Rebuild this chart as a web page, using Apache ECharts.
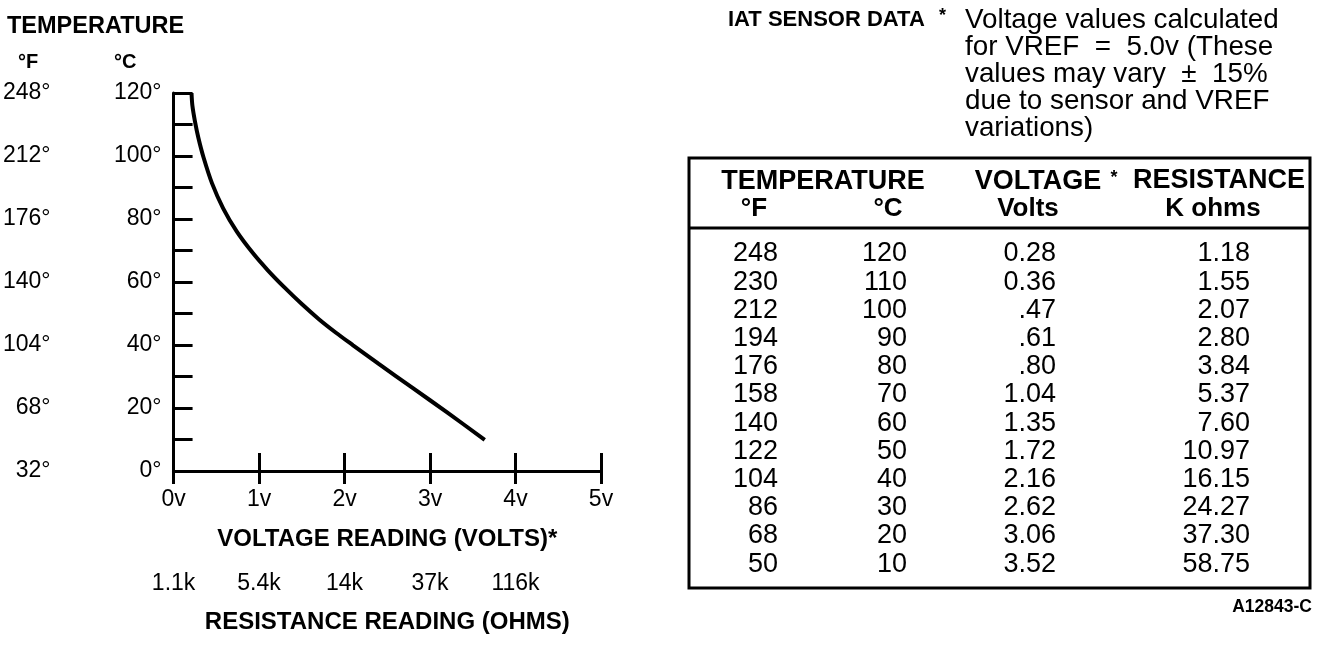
<!DOCTYPE html>
<html>
<head>
<meta charset="utf-8">
<script src="https://cdn.jsdelivr.net/npm/echarts@6/dist/echarts.min.js"></script>
<style>
html,body{margin:0;padding:0;background:#fff;}
#main{width:1328px;height:646px;}
</style>
</head>
<body>
<div id="main"></div>
<script>
// ---- Curve (voltage in volts, temperature in °C) ----
const curveVolts = [0.21, 0.22, 0.25, 0.29, 0.35, 0.45, 0.58, 0.74, 0.93, 1.10, 1.30, 1.50, 1.70, 1.90, 2.10, 2.40, 2.80, 3.20, 3.64];
const curveTemps = [120, 116, 111, 105.8, 99.6, 91.3, 83.4, 76.0, 69.1, 63.8, 58.2, 53.0, 48.2, 43.9, 39.9, 34.0, 26.3, 18.6, 9.9];

// ---- Axis tick labels ----
const voltLabels = ['0v', '1v', '2v', '3v', '4v', '5v'];
const resistLabels = ['1.1k', '5.4k', '14k', '37k', '116k', ''];
const celsiusLabels = ['0°', '20°', '40°', '60°', '80°', '100°', '120°'];
const fahrenheitLabels = ['32°', '68°', '104°', '140°', '176°', '212°', '248°'];

// ---- IAT sensor data table ----
const tableF = ['248', '230', '212', '194', '176', '158', '140', '122', '104', '86', '68', '50'];
const tableC = ['120', '110', '100', '90', '80', '70', '60', '50', '40', '30', '20', '10'];
const tableVolts = ['0.28', '0.36', '.47', '.61', '.80', '1.04', '1.35', '1.72', '2.16', '2.62', '3.06', '3.52'];
const tableKohms = ['1.18', '1.55', '2.07', '2.80', '3.84', '5.37', '7.60', '10.97', '16.15', '24.27', '37.30', '58.75'];

const noteLines = [
  'Voltage values calculated',
  'for VREF  =  5.0v (These',
  'values may vary  ±  15%',
  'due to sensor and VREF',
  'variations)'
];

const FF = '"Liberation Sans", Arial, Helvetica, sans-serif';
const chart = echarts.init(document.getElementById('main'));

function txt(text, x, y, size, weight, align, valign) {
  return {
    type: 'text',
    silent: true,
    style: {
      text: text, x: x, y: y,
      fontSize: size, fontWeight: weight || 'normal', fontFamily: FF,
      fill: '#000',
      align: align || 'left', verticalAlign: valign || 'middle',
      textAlign: align || 'left', textVerticalAlign: valign || 'middle'
    }
  };
}

const graphics = [];
// left headings
graphics.push(txt('TEMPERATURE', 7, 27, 23.5, 'bold'));
graphics.push(txt('°F', 18, 62, 20, 'bold'));
graphics.push(txt('°C', 114, 62, 20, 'bold'));

// right note
graphics.push(txt('IAT SENSOR DATA', 728, 20, 22, 'bold'));
graphics.push(txt('*', 939, 16, 18, 'bold'));
noteLines.forEach(function (l, i) {
  graphics.push(txt(l, 965, 20 + i * 27, 27.8, 'normal'));
});

// table frame
graphics.push({ type: 'rect', silent: true, shape: { x: 689, y: 158, width: 621, height: 430 },
  style: { fill: 'none', stroke: '#000', lineWidth: 3 } });
graphics.push({ type: 'line', silent: true, shape: { x1: 689, y1: 228, x2: 1310, y2: 228 },
  style: { stroke: '#000', lineWidth: 3 } });

// table headers
graphics.push(txt('TEMPERATURE', 823, 182, 27, 'bold', 'center'));
graphics.push(txt('VOLTAGE', 1038, 182, 27, 'bold', 'center'));
graphics.push(txt('*', 1114, 178, 18, 'bold', 'center'));
graphics.push(txt('RESISTANCE', 1219, 181, 27, 'bold', 'center'));
graphics.push(txt('°F', 754, 209, 26, 'bold', 'center'));
graphics.push(txt('°C', 888, 209, 26, 'bold', 'center'));
graphics.push(txt('Volts', 1028, 209, 26, 'bold', 'center'));
graphics.push(txt('K ohms', 1213, 209, 26, 'bold', 'center'));

// table body
for (let i = 0; i < tableF.length; i++) {
  const y = 254 + i * 28.2;
  graphics.push(txt(tableF[i], 778, y, 27, 'normal', 'right'));
  graphics.push(txt(tableC[i], 907, y, 27, 'normal', 'right'));
  graphics.push(txt(tableVolts[i], 1056, y, 27, 'normal', 'right'));
  graphics.push(txt(tableKohms[i], 1250, y, 27, 'normal', 'right'));
}

// figure id
graphics.push(txt('A12843-C', 1312, 607, 17.5, 'bold', 'right'));

const curveData = curveVolts.map(function (v, i) { return [v, curveTemps[i]]; });

const axisLblStyle = { color: '#000', fontSize: 23, fontFamily: FF };

chart.setOption({
  animation: false,
  backgroundColor: '#fff',
  grid: { left: 173.5, top: 93, width: 427.5, height: 378, containLabel: false },
  xAxis: [
    {
      type: 'value', min: 0, max: 5, interval: 1, position: 'bottom',
      axisLine: { show: true, lineStyle: { color: '#000', width: 3 } },
      axisTick: { show: true, inside: true, length: 18, lineStyle: { color: '#000', width: 3 } },
      axisLabel: Object.assign({ margin: 17, formatter: function (v) { return voltLabels[Math.round(v)]; } }, axisLblStyle),
      splitLine: { show: false },
      name: 'VOLTAGE READING (VOLTS)*', nameLocation: 'middle', nameGap: 56,
      nameTextStyle: { color: '#000', fontSize: 24, fontWeight: 'bold', fontFamily: FF }
    },
    {
      type: 'value', min: 0, max: 5, interval: 1, position: 'bottom',
      axisLine: { show: false },
      axisTick: { show: true, inside: false, length: 13, lineStyle: { color: '#000', width: 3 } },
      axisLabel: { show: false },
      splitLine: { show: false }
    },
    {
      type: 'value', min: 0, max: 5, interval: 1, position: 'bottom', offset: 88,
      axisLine: { show: false },
      axisTick: { show: false },
      axisLabel: Object.assign({ margin: 13, formatter: function (v) { return resistLabels[Math.round(v)]; } }, axisLblStyle),
      splitLine: { show: false },
      name: 'RESISTANCE READING (OHMS)', nameLocation: 'middle', nameGap: 51,
      nameTextStyle: { color: '#000', fontSize: 24, fontWeight: 'bold', fontFamily: FF }
    }
  ],
  yAxis: [
    {
      type: 'value', min: 0, max: 120, interval: 10, position: 'left',
      axisLine: { show: true, lineStyle: { color: '#000', width: 3 } },
      axisTick: { show: true, inside: true, length: 19, lineStyle: { color: '#000', width: 3 } },
      axisLabel: Object.assign({ margin: 12, formatter: function (v) {
        return v % 20 === 0 ? celsiusLabels[v / 20] : '';
      } }, axisLblStyle),
      splitLine: { show: false }
    },
    {
      type: 'value', min: 0, max: 120, interval: 20, position: 'left', offset: 111,
      axisLine: { show: false },
      axisTick: { show: false },
      axisLabel: Object.assign({ margin: 12, formatter: function (v) {
        return fahrenheitLabels[Math.round(v / 20)];
      } }, axisLblStyle),
      splitLine: { show: false }
    }
  ],
  series: [
    {
      type: 'line', xAxisIndex: 0, yAxisIndex: 0,
      data: curveData, smooth: 0.3, showSymbol: false, symbol: 'none',
      lineStyle: { color: '#000', width: 4 }
    }
  ],
  graphic: graphics
});
</script>
</body>
</html>
